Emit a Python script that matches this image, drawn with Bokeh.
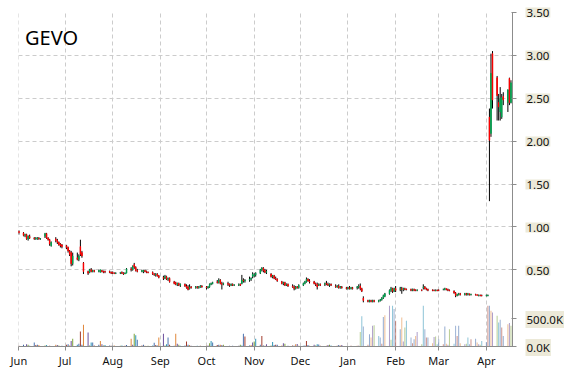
import pandas as pd
from bokeh.plotting import figure
from bokeh.layouts import row
from bokeh.models import Range1d, FixedTicker, DatetimeTickFormatter, Label, ColumnDataSource, Plot
from bokeh.embed import file_html
from bokeh.resources import INLINE

symbol = "GEVO"
first_day = "2018-06-01"
last_day = "2019-04-17"

# one line per month: Jun, Jul, Aug, Sep, Oct, Nov, Dec, Jan, Feb, Mar, Apr
opens = [
    0.95, 0.93, 0.90, 0.91, 0.86, 0.89, 0.87, 0.86, 0.86, 0.87, 0.86, 0.89, 0.92, 0.87, 0.85, 0.78, 0.86, 0.84, 0.82, 0.80, 0.79,
    0.78, 0.76, 0.72, 0.70, 0.57, 0.64, 0.62, 0.77, 0.70, 0.58, 0.48, 0.47, 0.50, 0.48, 0.49, 0.48, 0.47, 0.49, 0.48, 0.48, 0.48, 0.47,
    0.47, 0.46, 0.455, 0.46, 0.47, 0.46, 0.45, 0.46, 0.51, 0.50, 0.56, 0.53, 0.49, 0.48, 0.48, 0.49, 0.48, 0.47, 0.47, 0.45, 0.44, 0.45, 0.43,
    0.41, 0.40, 0.42, 0.39, 0.40, 0.36, 0.35, 0.33, 0.34, 0.32, 0.33, 0.31, 0.30, 0.28, 0.30, 0.29, 0.30, 0.29, 0.30, 0.31,
    0.30, 0.29, 0.30, 0.33, 0.34, 0.36, 0.35, 0.38, 0.34, 0.33, 0.34, 0.33, 0.32, 0.33, 0.32, 0.32, 0.33, 0.34, 0.38, 0.37, 0.38, 0.39, 0.42,
    0.43, 0.44, 0.46, 0.50, 0.52, 0.49, 0.47, 0.45, 0.42, 0.43, 0.40, 0.39, 0.36, 0.34, 0.35, 0.32, 0.33, 0.31, 0.30, 0.28, 0.30, 0.29,
    0.32, 0.34, 0.36, 0.39, 0.37, 0.36, 0.34, 0.33, 0.32, 0.33, 0.33, 0.34, 0.33, 0.32, 0.33, 0.31, 0.30, 0.31, 0.29, 0.30, 0.29,
    0.28, 0.29, 0.28, 0.29, 0.29, 0.30, 0.31, 0.28, 0.17, 0.14, 0.13, 0.14, 0.13, 0.14, 0.13, 0.14, 0.15, 0.17, 0.19, 0.22, 0.26, 0.28, 0.25,
    0.28, 0.27, 0.28, 0.27, 0.28, 0.275, 0.27, 0.26, 0.27, 0.265, 0.26, 0.265, 0.29, 0.30, 0.28, 0.27, 0.265, 0.26, 0.255, 0.26,
    0.265, 0.27, 0.27, 0.28, 0.27, 0.26, 0.25, 0.23, 0.20, 0.21, 0.22, 0.21, 0.22, 0.21, 0.22, 0.21, 0.21, 0.21, 0.20, 0.205, 0.20,
    0.195, 0.20, 2.28, 2.09, 3.02, 2.74, 2.45, 2.34, 2.28, 2.52, 2.45, 2.73, 2.45,
]
highs = [
    0.96, 0.94, 0.92, 0.92, 0.90, 0.91, 0.88, 0.88, 0.88, 0.88, 0.87, 0.93, 0.93, 0.88, 0.86, 0.83, 0.88, 0.86, 0.83, 0.81, 0.80,
    0.79, 0.77, 0.73, 0.72, 0.70, 0.70, 0.68, 0.85, 0.72, 0.59, 0.49, 0.51, 0.52, 0.50, 0.50, 0.50, 0.50, 0.50, 0.49, 0.49, 0.49, 0.48,
    0.48, 0.47, 0.47, 0.47, 0.48, 0.47, 0.47, 0.52, 0.53, 0.55, 0.58, 0.54, 0.51, 0.50, 0.50, 0.50, 0.49, 0.48, 0.48, 0.46, 0.46, 0.46, 0.44,
    0.43, 0.44, 0.43, 0.41, 0.41, 0.37, 0.36, 0.35, 0.35, 0.34, 0.34, 0.33, 0.32, 0.33, 0.31, 0.31, 0.31, 0.31, 0.32, 0.32,
    0.31, 0.31, 0.34, 0.35, 0.36, 0.38, 0.40, 0.39, 0.36, 0.35, 0.36, 0.34, 0.34, 0.34, 0.33, 0.34, 0.34, 0.44, 0.40, 0.39, 0.42, 0.41, 0.47,
    0.46, 0.47, 0.51, 0.53, 0.53, 0.51, 0.50, 0.46, 0.44, 0.44, 0.42, 0.40, 0.37, 0.36, 0.36, 0.34, 0.34, 0.33, 0.32, 0.31, 0.31, 0.33,
    0.35, 0.37, 0.41, 0.40, 0.39, 0.37, 0.35, 0.35, 0.34, 0.34, 0.35, 0.37, 0.35, 0.34, 0.34, 0.33, 0.32, 0.33, 0.31, 0.31, 0.30,
    0.30, 0.31, 0.30, 0.30, 0.31, 0.33, 0.34, 0.29, 0.19, 0.15, 0.15, 0.15, 0.15, 0.15, 0.15, 0.16, 0.18, 0.21, 0.23, 0.27, 0.30, 0.29, 0.29,
    0.31, 0.30, 0.30, 0.29, 0.29, 0.28, 0.28, 0.28, 0.28, 0.27, 0.27, 0.27, 0.33, 0.31, 0.29, 0.28, 0.27, 0.27, 0.27, 0.27,
    0.27, 0.28, 0.29, 0.28, 0.28, 0.27, 0.26, 0.24, 0.22, 0.23, 0.23, 0.23, 0.23, 0.23, 0.22, 0.22, 0.22, 0.21, 0.21, 0.21, 0.21,
    0.21, 0.21, 2.38, 3.02, 3.05, 2.76, 2.55, 2.63, 2.55, 2.57, 2.60, 2.74, 2.71,
]
lows = [
    0.91, 0.89, 0.88, 0.85, 0.84, 0.86, 0.85, 0.85, 0.85, 0.85, 0.85, 0.87, 0.86, 0.84, 0.78, 0.77, 0.82, 0.80, 0.78, 0.76, 0.75,
    0.74, 0.70, 0.66, 0.54, 0.55, 0.61, 0.60, 0.66, 0.64, 0.45, 0.44, 0.46, 0.47, 0.47, 0.47, 0.47, 0.47, 0.47, 0.46, 0.46, 0.46, 0.45,
    0.45, 0.45, 0.45, 0.45, 0.45, 0.44, 0.45, 0.46, 0.48, 0.49, 0.51, 0.48, 0.47, 0.47, 0.46, 0.47, 0.46, 0.46, 0.44, 0.43, 0.42, 0.42, 0.40,
    0.38, 0.39, 0.38, 0.37, 0.35, 0.33, 0.32, 0.31, 0.31, 0.30, 0.30, 0.28, 0.26, 0.27, 0.28, 0.28, 0.28, 0.28, 0.29, 0.29,
    0.27, 0.28, 0.29, 0.32, 0.33, 0.34, 0.34, 0.33, 0.27, 0.32, 0.31, 0.30, 0.31, 0.31, 0.31, 0.31, 0.31, 0.33, 0.35, 0.35, 0.36, 0.37, 0.40,
    0.41, 0.42, 0.45, 0.48, 0.47, 0.46, 0.45, 0.41, 0.40, 0.39, 0.38, 0.36, 0.33, 0.32, 0.31, 0.31, 0.30, 0.29, 0.26, 0.27, 0.28, 0.28,
    0.31, 0.33, 0.35, 0.36, 0.34, 0.33, 0.31, 0.27, 0.31, 0.31, 0.31, 0.32, 0.31, 0.30, 0.31, 0.29, 0.29, 0.28, 0.28, 0.28, 0.27,
    0.27, 0.27, 0.27, 0.27, 0.27, 0.28, 0.26, 0.24, 0.12, 0.12, 0.12, 0.12, 0.12, 0.12, 0.12, 0.13, 0.14, 0.16, 0.18, 0.21, 0.24, 0.23, 0.24,
    0.24, 0.25, 0.22, 0.25, 0.26, 0.26, 0.25, 0.25, 0.25, 0.25, 0.25, 0.25, 0.27, 0.27, 0.26, 0.25, 0.25, 0.25, 0.25, 0.25,
    0.25, 0.26, 0.26, 0.26, 0.25, 0.25, 0.22, 0.18, 0.19, 0.20, 0.20, 0.20, 0.20, 0.20, 0.20, 0.20, 0.20, 0.20, 0.19, 0.19, 0.19,
    0.19, 0.19, 1.30, 2.05, 2.38, 2.24, 2.24, 2.24, 2.26, 2.42, 2.34, 2.42, 2.44,
]
closes = [
    0.93, 0.90, 0.91, 0.86, 0.89, 0.87, 0.86, 0.87, 0.87, 0.86, 0.865, 0.92, 0.87, 0.85, 0.80, 0.82, 0.84, 0.82, 0.79, 0.78, 0.77,
    0.76, 0.72, 0.68, 0.57, 0.66, 0.62, 0.66, 0.68, 0.66, 0.48, 0.46, 0.50, 0.48, 0.49, 0.48, 0.49, 0.50, 0.48, 0.47, 0.475, 0.47, 0.46,
    0.46, 0.455, 0.46, 0.47, 0.46, 0.45, 0.46, 0.51, 0.50, 0.54, 0.53, 0.49, 0.48, 0.49, 0.49, 0.48, 0.47, 0.465, 0.45, 0.44, 0.45, 0.43, 0.41,
    0.40, 0.42, 0.39, 0.40, 0.36, 0.34, 0.33, 0.34, 0.32, 0.33, 0.31, 0.29, 0.27, 0.30, 0.29, 0.30, 0.29, 0.30, 0.31, 0.30,
    0.29, 0.30, 0.33, 0.34, 0.35, 0.35, 0.38, 0.34, 0.33, 0.34, 0.33, 0.32, 0.33, 0.32, 0.325, 0.33, 0.32, 0.38, 0.37, 0.38, 0.39, 0.40, 0.45,
    0.44, 0.46, 0.50, 0.52, 0.49, 0.47, 0.48, 0.42, 0.43, 0.40, 0.39, 0.37, 0.34, 0.35, 0.32, 0.33, 0.31, 0.30, 0.28, 0.30, 0.29, 0.32,
    0.34, 0.36, 0.39, 0.37, 0.36, 0.34, 0.33, 0.30, 0.33, 0.32, 0.34, 0.33, 0.32, 0.33, 0.32, 0.30, 0.31, 0.29, 0.30, 0.29, 0.28,
    0.29, 0.28, 0.29, 0.28, 0.30, 0.31, 0.28, 0.25, 0.14, 0.13, 0.14, 0.13, 0.14, 0.13, 0.14, 0.15, 0.17, 0.20, 0.22, 0.26, 0.28, 0.25, 0.28,
    0.26, 0.28, 0.27, 0.28, 0.27, 0.27, 0.26, 0.27, 0.26, 0.26, 0.265, 0.26, 0.30, 0.28, 0.27, 0.26, 0.26, 0.255, 0.26, 0.255,
    0.26, 0.27, 0.28, 0.27, 0.26, 0.255, 0.23, 0.20, 0.21, 0.22, 0.21, 0.22, 0.21, 0.22, 0.21, 0.215, 0.205, 0.20, 0.205, 0.20, 0.195,
    0.20, 0.205, 2.01, 2.79, 2.48, 2.53, 2.40, 2.50, 2.51, 2.48, 2.60, 2.45, 2.68,
]
volumes_k = [
    15, 30, 10, 40, 30, 15, 70, 25, 30, 25, 10, 20, 25, 10, 15, 10, 30, 25, 20, 10, 15,
    30, 40, 20, 100, 140, 30, 50, 270, 30, 390, 250, 20, 70, 70, 20, 30, 100, 40, 20, 25, 20, 15,
    15, 20, 10, 15, 20, 10, 15, 25, 140, 30, 230, 200, 120, 20, 30, 15, 10, 15, 20, 65, 25, 20, 160,
    230, 20, 40, 160, 30, 15, 230, 50, 30, 15, 20, 90, 30, 25, 15, 10, 15, 10, 15, 10,
    15, 20, 60, 100, 70, 25, 30, 30, 25, 30, 10, 15, 10, 15, 10, 15, 30, 20, 230, 180, 20, 25, 70,
    90, 140, 30, 190, 20, 15, 40, 20, 80, 25, 30, 30, 20, 60, 50, 10, 15, 20, 15, 40, 45, 15,
    15, 20, 100, 25, 15, 30, 20, 40, 35, 15, 10, 15, 25, 30, 20, 10, 15, 25, 20, 25, 10,
    10, 10, 15, 10, 15, 20, 260, 540, 360, 30, 220, 160, 370, 380, 190, 160, 50, 530, 560, 730, 120, 730, 670,
    460, 310, 520, 90, 340, 460, 160, 60, 130, 190, 260, 40, 730, 310, 160, 160, 60, 170, 180, 40,
    130, 40, 360, 50, 30, 310, 50, 370, 190, 370, 60, 40, 50, 160, 40, 130, 140, 70, 40, 30, 100,
    80, 730, 730, 640, 610, 550, 430, 480, 340, 190, 400, 420, 370,
]
month_ticks = ["2018-06-01", "2018-07-01", "2018-08-01", "2018-09-01", "2018-10-01", "2018-11-01",
               "2018-12-01", "2019-01-01", "2019-02-01", "2019-03-01", "2019-04-01"]
price_ticks = [0.5, 1.0, 1.5, 2.0, 2.5, 3.0, 3.5]
volume_ticks_k = [0, 500]

# ---------------------------------------------------------------- layout
W, H = 570, 370
BORDER_L, BORDER_T, BORDER_B = 18, 12, 23
MAIN_W = 517          # frame ends at x=512, 5 px for the tick marks
LABEL_W = W - MAIN_W  # strip that carries the right-hand tick labels
FRAME_H = H - BORDER_T - BORDER_B
FONT = "Noto Sans"
UP, DOWN = "#00a550", "#ff0000"
vol_palette = ["#a23b2c", "#3d66a8", "#e0873a", "#6b4f9c", "#7ea43c", "#2f94b7", "#4a73b0"]
PRICE_LO, PRICE_HI = -0.395, 3.5
VOL_HI = 5982e3
DAY = 86400000.0

dates = pd.bdate_range(first_day, last_day)
n = len(dates)
assert n == len(opens) == len(highs) == len(lows) == len(closes) == len(volumes_k)

up = [c >= o for o, c in zip(opens, closes)]
src = ColumnDataSource(dict(
    x=dates,
    o=opens, h=highs, l=lows, c=closes,
    top=[max(o, c) for o, c in zip(opens, closes)],
    bot=[min(o, c) for o, c in zip(opens, closes)],
    col=[UP if u else DOWN for u in up],
    vol=[v * 1000 for v in volumes_k],
    vcol=[vol_palette[i % len(vol_palette)] for i in range(n)],
    valpha=[1.0 if d < pd.Timestamp("2019-01-08") else 0.55 for d in dates],
))

x_start_ms = (pd.Timestamp(first_day) - pd.Timedelta(hours=6)).value / 1e6
x_end_ms = pd.Timestamp("2019-04-18").value / 1e6

p = figure(width=MAIN_W, height=H, x_axis_type="datetime", y_axis_location="right",
           x_range=Range1d(x_start_ms, x_end_ms), y_range=Range1d(PRICE_LO, PRICE_HI),
           output_backend="svg", toolbar_location=None,
           min_border_left=BORDER_L, min_border_top=BORDER_T, min_border_right=5,
           min_border_bottom=BORDER_B)
p.extra_y_ranges = {"vol": Range1d(0, VOL_HI)}
p.outline_line_color = None
p.background_fill_color = "white"
p.border_fill_color = "white"

# volume
p.vbar(x="x", width=0.65 * DAY, top="vol", bottom=0, y_range_name="vol",
       fill_color="vcol", line_color=None, fill_alpha="valpha", source=src)
# candles
p.segment(x0="x", y0="l", x1="x", y1="h", line_color="black", line_width=1, source=src)
p.vbar(x="x", width=0.3 * DAY, top="top", bottom="bot", fill_color="col",
       line_color="col", line_width=1, source=src)

# x axis
month_ms = [pd.Timestamp(m).value / 1e6 for m in month_ticks]
xa = p.xaxis[0]
xa.ticker = FixedTicker(ticks=month_ms)
xa.formatter = DatetimeTickFormatter(days="%b", months="%b", years="%b", hours="%b",
                                     hourmin="%b", minutes="%b", minsec="%b", seconds="%b",
                                     milliseconds="%b", microseconds="%b")
xa.axis_line_color = "#8c8c8c"
xa.major_tick_line_color = "#8c8c8c"
xa.major_tick_out = 4
xa.major_tick_in = 0
xa.minor_tick_line_color = None
xa.major_label_standoff = 2
xa.major_label_text_font = FONT
xa.major_label_text_font_size = "11px"
xa.major_label_text_color = "#111111"

# right axis: price ticks and volume ticks share one axis (labels drawn in the strip)
vol_tick_pos = [PRICE_LO + v * 1000 / VOL_HI * (PRICE_HI - PRICE_LO) for v in volume_ticks_k]
ya = p.yaxis[0]
ya.ticker = FixedTicker(ticks=price_ticks + vol_tick_pos)
ya.axis_line_color = "#8c8c8c"
ya.major_tick_line_color = "#8c8c8c"
ya.major_tick_out = 4
ya.major_tick_in = 1
ya.minor_tick_line_color = None
ya.major_label_standoff = 0
ya.major_label_text_font_size = "0px"
ya.major_label_text_color = None

# grids
p.xgrid.grid_line_color = "#cccccc"
p.xgrid.grid_line_dash = "4 3"
p.ygrid.ticker = FixedTicker(ticks=price_ticks)
p.ygrid.grid_line_color = "#cccccc"
p.ygrid.grid_line_dash = "4 3"

# title label inside plot
p.add_layout(Label(x=pd.Timestamp("2018-06-05").value / 1e6, y=3.21, text=symbol,
                   text_font=FONT, text_font_size="20px", text_color="black",
                   text_baseline="alphabetic", text_align="left"))

# label strip with the same price-per-pixel scale as the main frame
can_unalign = "frame_align" in Plot.properties()
per_px = (PRICE_HI - PRICE_LO) / FRAME_H
if can_unalign:
    q_range = Range1d(PRICE_LO - BORDER_B * per_px, PRICE_HI + BORDER_T * per_px)
    q_borders = dict(min_border_top=0, min_border_bottom=0)
else:
    q_range = p.y_range
    q_borders = dict(min_border_top=BORDER_T, min_border_bottom=BORDER_B)
q = figure(width=LABEL_W, height=H, x_range=Range1d(0, LABEL_W), y_range=q_range,
           output_backend="svg", toolbar_location=None,
           x_axis_location=None, y_axis_location=None,
           min_border_left=0, min_border_right=0, **q_borders)
if can_unalign:
    p.frame_align = False
    q.frame_align = False
q.outline_line_color = None
q.xgrid.visible = False
q.ygrid.visible = False
q.background_fill_color = "white"
q.border_fill_color = "white"
tick_texts = [("%.2f" % t, t) for t in price_ticks] + \
             [("%.1fK" % v, pos) for v, pos in zip(volume_ticks_k, vol_tick_pos)]
for txt, pos in tick_texts:
    q.add_layout(Label(x=8, y=pos, text=txt, text_font=FONT, text_font_size="11.5px",
                       text_color="#111111", text_baseline="middle", text_align="left",
                       background_fill_color="#ece9d8", padding=1))

layout = row(p, q, spacing=0)
open("out.html", "w").write(file_html(layout, INLINE))
